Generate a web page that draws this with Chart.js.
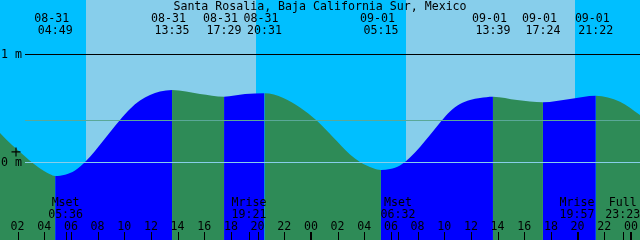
<!DOCTYPE html>
<html><head><meta charset="utf-8">
<script src="https://cdn.jsdelivr.net/npm/chart.js@4/dist/chart.umd.min.js"></script>
<style>html,body{margin:0;padding:0;background:#00BFFF;overflow:hidden}#wrap{width:640px;height:240px;position:relative}</style>
</head><body><div id="wrap"><canvas id="c" width="640" height="240"></canvas></div>
<script>
// ---- data ----
const chartTitle = "Santa Rosalia, Baja California Sur, Mexico";
// hours counted from 08-31 00:00
const tideHours   = [0.68, 1.58, 2.48, 3.23, 3.98, 4.43, 4.817, 5.555, 6.305, 7.13, 7.805, 8.555, 9.305, 9.68, 10.43, 11.18, 11.93, 12.68, 13.583, 15.68, 17.483, 19.06, 20.517, 21.93, 23.18, 24.43, 25.68, 26.93, 27.68, 28.68, 29.25, 29.93, 30.68, 31.43, 32.18, 32.93, 33.81, 34.43, 35.18, 35.93, 36.68, 37.65, 39.46, 41.4, 43.43, 45.367, 47.18, 48.68];
const tideHeights = [0.269, 0.157, 0.060, -0.019, -0.083, -0.114, -0.13, -0.119, -0.079, 0.009, 0.102, 0.218, 0.333, 0.389, 0.491, 0.569, 0.620, 0.653, 0.667, 0.630, 0.605, 0.630, 0.636, 0.593, 0.505, 0.384, 0.227, 0.069, 0.000, -0.058, -0.074, -0.065, -0.032, 0.042, 0.139, 0.250, 0.384, 0.468, 0.537, 0.574, 0.593, 0.605, 0.574, 0.553, 0.583, 0.614, 0.558, 0.435];
const eventDates = ["08-31", "08-31", "08-31", "08-31", "09-01", "09-01", "09-01", "09-01"];
const eventTimes = ["04:49", "13:35", "17:29", "20:31", "05:15", "13:39", "17:24", "21:22"];
const moonNames = ["Mset", "Mrise", "Mset", "Mrise", "Full"];
const moonDates = ["08-31", "08-31", "09-01", "09-01", "09-01"];
const moonTimes = ["05:36", "19:21", "06:32", "19:57", "23:23"];
const sunriseHours = [7.13, 31.13];
const sunsetHours  = [19.88, 43.80];
const tickHours  = [2, 4, 6, 8, 10, 12, 14, 16, 18, 20, 22, 24, 26, 28, 30, 32, 34, 36, 38, 40, 42, 44, 46, 48];
const tickLabels = ["02", "04", "06", "08", "10", "12", "14", "16", "18", "20", "22", "00", "02", "04", "06", "08", "10", "12", "14", "16", "18", "20", "22", "00"];
const levelValues = [1, 0];
const levelLabels = ["1 m", "0 m"];
const meanLevel = 0.39;
const nowMark = [{x: 1.88, y: 0.093}];
const xRange = [0.68, 48.68];
const yRange = [-0.7222, 1.5];

// ---- styles ----
const NIGHT = "#00BFFF", DAY = "#87CEEB", FLOOD = "#0000FF", EBB = "#2E8B57";
const FONT = "11.6px 'DejaVu Sans Mono', monospace";

const dayIndex = {"08-31": 0, "09-01": 1};
function toHours(d, t) { const [h, m] = t.split(":").map(Number); return dayIndex[d] * 24 + h + m / 60; }

const tidePoints = tideHours.map((h, i) => ({x: h, y: tideHeights[i]}));

const decor = {
  id: 'decor',
  beforeDatasetsDraw(chart) {
    const {ctx, chartArea: a, scales: {x}} = chart;
    ctx.save();
    ctx.fillStyle = NIGHT;
    ctx.fillRect(0, 0, chart.width, chart.height);
    ctx.fillStyle = DAY;
    sunriseHours.forEach((r, i) => {
      const x0 = Math.round(x.getPixelForValue(r)), x1 = Math.round(x.getPixelForValue(sunsetHours[i]));
      ctx.fillRect(x0, a.top, x1 - x0, a.bottom - a.top);
    });
    ctx.restore();
  },
  afterDatasetsDraw(chart) {
    const {ctx, chartArea: a, scales: {x, y}} = chart;
    ctx.save();
    // level lines
    const yMean = Math.round(y.getPixelForValue(meanLevel));
    ctx.fillStyle = "#5AA898";
    ctx.fillRect(25, yMean, a.right - 25, 1);
    const y0 = Math.round(y.getPixelForValue(0));
    ctx.fillStyle = "#87CEEB";
    ctx.fillRect(25, y0, a.right - 25, 1);
    const y1 = Math.round(y.getPixelForValue(1));
    ctx.fillStyle = "#000";
    ctx.fillRect(25, y1, a.right - 25, 1);
    // texts
    ctx.font = FONT;
    ctx.fillStyle = "#000";
    ctx.textBaseline = "alphabetic";
    ctx.textAlign = "left";
    levelValues.forEach((v, i) => ctx.fillText(levelLabels[i], 1, Math.round(y.getPixelForValue(v)) + 4));
    ctx.textAlign = "center";
    ctx.fillText(chartTitle, 320, 10);
    eventTimes.forEach((t, i) => {
      const px = x.getPixelForValue(toHours(eventDates[i], t));
      ctx.fillText(eventDates[i] + " ", px, 22);
      ctx.fillText(t, px, 34);
    });
    moonTimes.forEach((t, i) => {
      const px = x.getPixelForValue(toHours(moonDates[i], t));
      ctx.fillText(moonNames[i], px, 206);
      ctx.fillText(t, px, 218);
      ctx.fillRect(Math.round(px), 232, 1, 8);
    });
    tickHours.forEach((h, i) => {
      const px = x.getPixelForValue(h);
      ctx.fillText(tickLabels[i], px, 229.5);
      const w = (h % 24 === 0) ? 2 : 1;
      ctx.fillRect(Math.round(px) - (w - 1), 232, w, 8);
    });
    ctx.restore();
  }
};

new Chart(document.getElementById('c'), {
  type: 'line',
  data: {
    datasets: [
      {
        data: tidePoints,
        fill: 'start',
        backgroundColor: EBB,
        borderColor: 'rgba(0,0,0,0)',
        borderWidth: 0,
        pointRadius: 0,
        cubicInterpolationMode: 'monotone',
        segment: { backgroundColor: c => (c.p1.parsed.y >= c.p0.parsed.y ? FLOOD : EBB) },
        order: 2
      },
      {
        data: nowMark,
        showLine: false,
        pointStyle: 'cross',
        pointRadius: 4.5,
        pointBorderColor: '#000',
        pointBorderWidth: 1.2,
        fill: false,
        clip: false,
        order: 1
      }
    ]
  },
  options: {
    responsive: false,
    animation: false,
    devicePixelRatio: 1,
    layout: { padding: 0, autoPadding: false },
    plugins: { legend: { display: false }, tooltip: { enabled: false }, title: { display: false } },
    scales: {
      x: { type: 'linear', min: xRange[0], max: xRange[1], display: false },
      y: { type: 'linear', min: yRange[0], max: yRange[1], display: false }
    }
  },
  plugins: [decor]
});
</script>
</body></html>
